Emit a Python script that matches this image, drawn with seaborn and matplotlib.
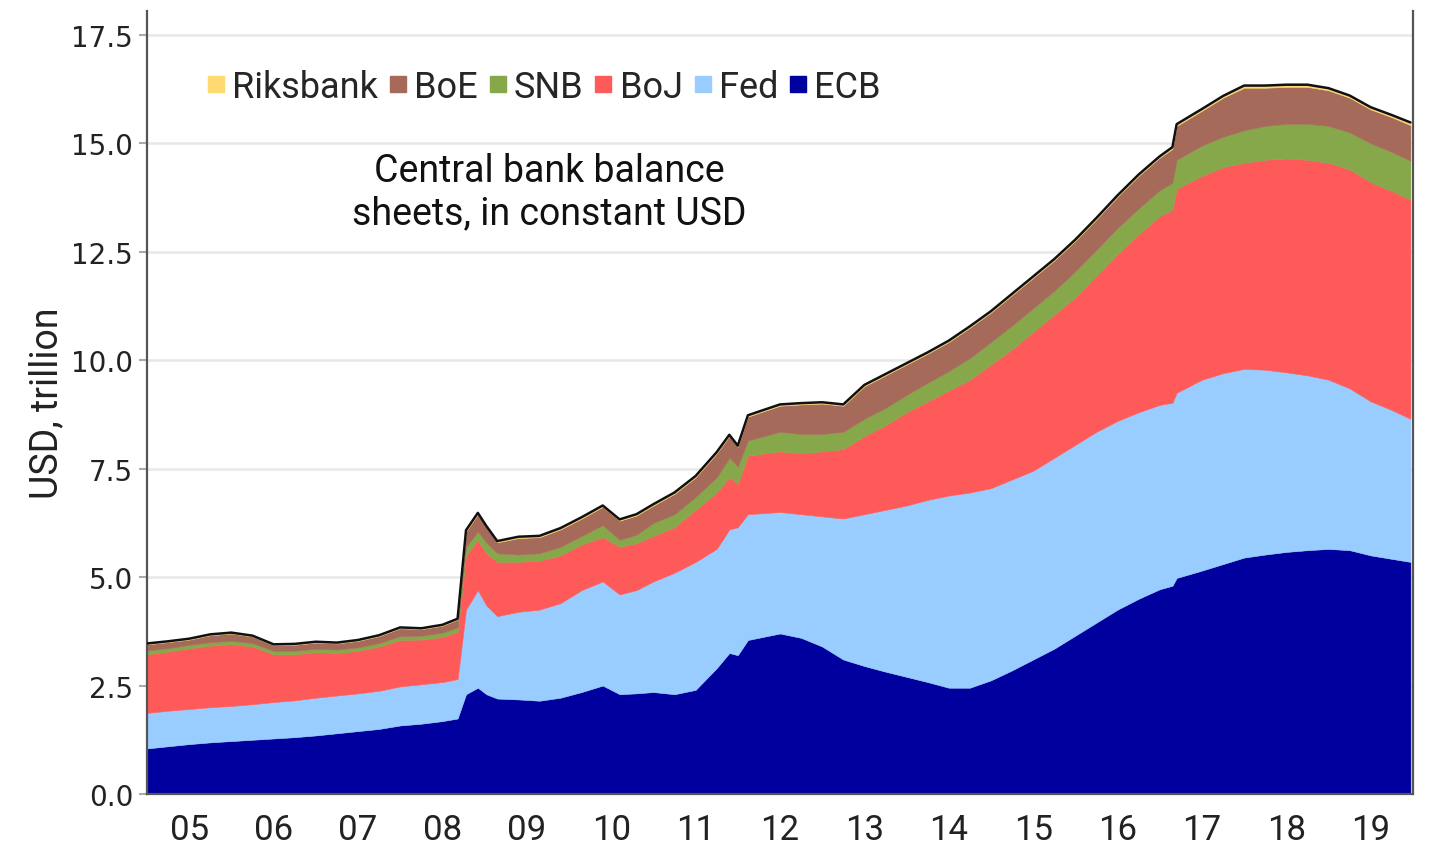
import numpy as np
import pandas as pd
import seaborn as sns
import matplotlib.pyplot as plt
from matplotlib.lines import Line2D

# decimal years, values in USD trillion
dates = [2005.00, 2005.25, 2005.50, 2005.75, 2006.00, 2006.25, 2006.50, 2006.75,
         2007.00, 2007.25, 2007.50, 2007.75, 2008.00, 2008.25, 2008.50, 2008.68,
         2008.78, 2008.92, 2009.02, 2009.15, 2009.40, 2009.65, 2009.90, 2010.15,
         2010.40, 2010.60, 2010.80, 2011.00, 2011.25, 2011.50, 2011.75, 2011.90,
         2012.00, 2012.12, 2012.50, 2012.75, 2013.00, 2013.25, 2013.50, 2013.75,
         2014.00, 2014.25, 2014.50, 2014.75, 2015.00, 2015.25, 2015.50, 2015.75,
         2016.00, 2016.25, 2016.50, 2016.75, 2017.00, 2017.15, 2017.20, 2017.50,
         2017.75, 2018.00, 2018.25, 2018.50, 2018.75, 2019.00, 2019.25, 2019.50,
         2019.75, 2019.97]

ecb = [1.05, 1.10, 1.15, 1.19, 1.22, 1.25, 1.28, 1.31,
       1.35, 1.40, 1.45, 1.50, 1.58, 1.62, 1.68, 1.74,
       2.30, 2.45, 2.30, 2.20, 2.18, 2.15, 2.22, 2.35,
       2.50, 2.30, 2.32, 2.35, 2.30, 2.40, 2.90, 3.25,
       3.20, 3.55, 3.70, 3.60, 3.40, 3.10, 2.95, 2.82,
       2.70, 2.58, 2.45, 2.45, 2.62, 2.85, 3.10, 3.35,
       3.65, 3.95, 4.25, 4.50, 4.72, 4.80, 4.98, 5.15,
       5.30, 5.45, 5.52, 5.58, 5.62, 5.65, 5.62, 5.50,
       5.42, 5.35]

fed = [0.82, 0.82, 0.81, 0.81, 0.81, 0.82, 0.84, 0.85,
       0.87, 0.87, 0.87, 0.88, 0.90, 0.91, 0.90, 0.91,
       1.95, 2.25, 2.05, 1.90, 2.02, 2.10, 2.18, 2.35,
       2.40, 2.30, 2.38, 2.55, 2.80, 2.95, 2.75, 2.85,
       2.95, 2.90, 2.80, 2.85, 3.00, 3.25, 3.50, 3.73,
       3.95, 4.20, 4.43, 4.50, 4.43, 4.40, 4.35, 4.40,
       4.40, 4.40, 4.35, 4.30, 4.25, 4.22, 4.27, 4.40,
       4.40, 4.35, 4.26, 4.14, 4.03, 3.90, 3.73, 3.55,
       3.43, 3.30]

boj = [1.35, 1.36, 1.40, 1.42, 1.42, 1.33, 1.10, 1.06,
       1.05, 0.98, 0.98, 1.02, 1.07, 1.03, 1.04, 1.09,
       1.25, 1.15, 1.20, 1.25, 1.15, 1.13, 1.10, 1.05,
       1.02, 1.10, 1.08, 1.05, 1.05, 1.20, 1.30, 1.20,
       1.00, 1.35, 1.40, 1.40, 1.50, 1.60, 1.80, 1.95,
       2.15, 2.27, 2.42, 2.60, 2.85, 3.00, 3.20, 3.30,
       3.40, 3.60, 3.85, 4.10, 4.35, 4.45, 4.70, 4.70,
       4.75, 4.75, 4.84, 4.93, 4.97, 5.00, 5.05, 5.05,
       5.05, 5.05]

snb = [0.09, 0.08, 0.08, 0.08, 0.08, 0.08, 0.08, 0.08,
       0.08, 0.08, 0.08, 0.08, 0.09, 0.09, 0.10, 0.10,
       0.20, 0.20, 0.25, 0.20, 0.17, 0.17, 0.20, 0.20,
       0.28, 0.16, 0.20, 0.30, 0.30, 0.30, 0.35, 0.45,
       0.40, 0.35, 0.45, 0.45, 0.40, 0.40, 0.40, 0.40,
       0.40, 0.43, 0.45, 0.50, 0.52, 0.55, 0.55, 0.55,
       0.60, 0.60, 0.60, 0.60, 0.60, 0.62, 0.67, 0.70,
       0.70, 0.75, 0.78, 0.80, 0.83, 0.85, 0.85, 0.90,
       0.90, 0.90]

boe = [0.14, 0.14, 0.12, 0.16, 0.17, 0.15, 0.13, 0.14,
       0.14, 0.14, 0.15, 0.16, 0.18, 0.15, 0.16, 0.18,
       0.35, 0.40, 0.35, 0.25, 0.38, 0.37, 0.40, 0.40,
       0.42, 0.44, 0.44, 0.40, 0.47, 0.45, 0.55, 0.50,
       0.45, 0.55, 0.60, 0.68, 0.70, 0.60, 0.75, 0.75,
       0.70, 0.67, 0.67, 0.70, 0.68, 0.70, 0.70, 0.70,
       0.70, 0.70, 0.72, 0.75, 0.75, 0.78, 0.78, 0.80,
       0.90, 0.98, 0.88, 0.85, 0.85, 0.82, 0.80, 0.78,
       0.80, 0.82]

riksbank = [0.02, 0.02, 0.02, 0.02, 0.02, 0.02, 0.02, 0.02,
            0.02, 0.02, 0.02, 0.02, 0.02, 0.02, 0.02, 0.02,
            0.03, 0.03, 0.03, 0.03, 0.03, 0.03, 0.03, 0.03,
            0.03, 0.03, 0.03, 0.03, 0.03, 0.03, 0.03, 0.03,
            0.03, 0.03, 0.03, 0.03, 0.03, 0.03, 0.03, 0.03,
            0.03, 0.03, 0.03, 0.03, 0.03, 0.03, 0.03, 0.03,
            0.03, 0.03, 0.03, 0.03, 0.03, 0.04, 0.04, 0.04,
            0.04, 0.05, 0.05, 0.05, 0.05, 0.05, 0.05, 0.05,
            0.05, 0.06]

banks = ["ECB", "Fed", "BoJ", "SNB", "BoE", "Riksbank"]
colors = ["#00009E", "#99CCFF", "#FF5A5A", "#86A84A", "#A66A5B", "#FFDA73"]
year_labels = ["05", "06", "07", "08", "09", "10", "11", "12",
               "13", "14", "15", "16", "17", "18", "19"]

df = pd.DataFrame({"date": dates, "ECB": ecb, "Fed": fed, "BoJ": boj,
                   "SNB": snb, "BoE": boe, "Riksbank": riksbank})
df["Total"] = df[banks].sum(axis=1)

sns.set_theme(style="white")
plt.rcParams['font.family'] = ['DejaVu Sans']
narrow = ['Liberation Sans Narrow', 'Roboto']

fig = plt.figure(figsize=(14.44, 8.53), dpi=100)
ax = fig.add_axes([0.1018, 0.068, 0.8767, 0.918])

ax.stackplot(df["date"], df[banks].T.values, colors=colors,
             edgecolor="face", linewidth=0.4, zorder=2)
sns.lineplot(data=df, x="date", y="Total", color="#111111", lw=1.8, ax=ax, zorder=3)

ax.set_xlim(2005, 2020)
ax.set_ylim(0, 18.05)
ax.set_yticks(np.arange(0, 17.6, 2.5))
ax.set_yticklabels([f"{v:.1f}" for v in np.arange(0, 17.6, 2.5)], fontsize=20, color="#222222")
ax.yaxis.grid(True, color="#E8E8E8", lw=1.8, zorder=0)
ax.set_axisbelow(True)

ax.set_xticks(range(2005, 2021))
ax.set_xticklabels([])
ax.set_xticks([y + 0.5 for y in range(2005, 2020)], minor=True)
ax.set_xticklabels(year_labels, minor=True, fontsize=25, family=narrow, color="#222222")
ax.tick_params(axis="x", which="major", length=9, width=1.8, color="#777777", direction="out")
ax.tick_params(axis="x", which="minor", length=0, pad=14)
ax.tick_params(axis="y", length=6, width=1.5, color="#aaaaaa", left=True, pad=4)

ax.set_xlabel("")
ax.set_ylabel("USD, trillion", fontsize=27, family=narrow, color="#222222", labelpad=4)

for side in ["left", "right", "bottom"]:
    ax.spines[side].set_color("#555555")
    ax.spines[side].set_linewidth(1.6)
ax.spines["top"].set_visible(False)

handles = [Line2D([], [], marker="s", ls="", color=colors[banks.index(b)], markersize=12)
           for b in banks[::-1]]
ax.legend(handles, banks[::-1], loc="center left", bbox_to_anchor=(0.016, 0.903),
          ncol=6, frameon=False, handletextpad=0.0, columnspacing=0.1,
          handlelength=0.9, prop={"family": narrow, "size": 26})

ax.text(0.318, 0.769, "Central bank balance\nsheets, in constant USD",
        transform=ax.transAxes, ha="center", va="center", fontsize=27,
        family=narrow, color="#111111", linespacing=1.2)

fig.savefig("out.png", dpi=100)
